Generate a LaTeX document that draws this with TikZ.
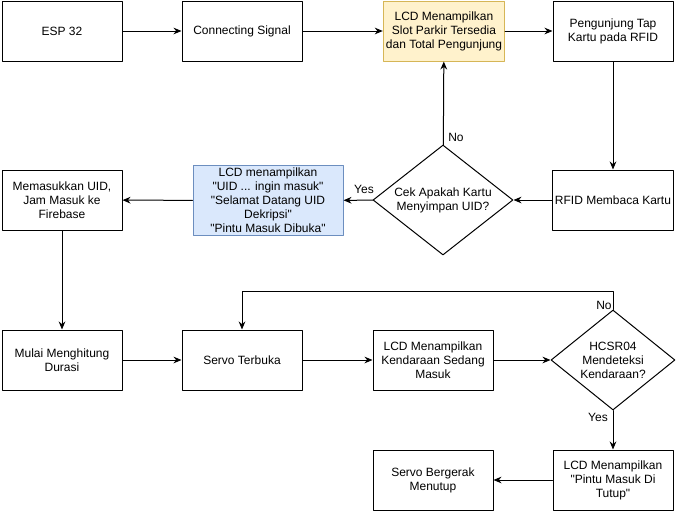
\documentclass[tikz,border=0pt]{standalone}
\usepackage{fontspec}
\setmainfont{Liberation Sans}[Ligatures=TeXOff]
\usetikzlibrary{arrows.meta,shapes.geometric}

\definecolor{slotfill}{HTML}{FFF2CC}
\definecolor{slotline}{HTML}{D6B656}
\definecolor{uidfill}{HTML}{DAE8FC}
\definecolor{uidline}{HTML}{6C8EBF}

\begin{document}
\begin{tikzpicture}[
			x=0.75pt, y=-0.75pt,
			every node/.style={font=\fontsize{9}{10.5}\selectfont},
			box/.style={draw, line width=0.75pt, align=center, inner sep=2pt,
				minimum width=90pt, minimum height=45pt},
			decision/.style={draw, diamond, line width=0.75pt, align=center, inner sep=0pt},
			flow/.style={-{Stealth[length=6pt,width=5pt]}, line width=0.75pt},
			line cap=round,
			line join=round
			]
			\useasboundingbox (0,0) rectangle (676,511);
			
			% top row
			\node[box] (esp) at (62,31) {ESP 32};
			\node[box] (conn) at (242,31) {Connecting Signal};
			\node[box, fill=slotfill, draw=slotline] (slot) at (444,31) {LCD Menampilkan\\Slot Parkir Tersedia\\dan Total Pengunjung};
			\node[box] (tap) at (613,31) {Pengunjung Tap\\Kartu pada RFID};
			
			% second row
			\node[box] (rfid) at (613,200) {RFID Membaca Kartu};
			\node[decision, aspect=1.27, minimum width=105pt, minimum height=82.5pt] (cek) at (443,200) {Cek Apakah Kartu\\Menyimpan UID?};
			\node[box, fill=uidfill, draw=uidline, minimum width=112.5pt, minimum height=52.5pt, inner sep=0pt] (lcduid) at (268,200.5)
				{LCD menampilkan\\"UID ... ingin masuk"\\"Selamat Datang UID\\Dekripsi"\\"Pintu Masuk Dibuka"};
			\node[box] (uid) at (62,200) {Memasukkan UID,\\Jam Masuk ke\\Firebase};
			
			% third row
			\node[box] (mulai) at (62,360) {Mulai Menghitung\\Durasi};
			\node[box] (servo) at (242,360) {Servo Terbuka};
			\node[box] (masuk) at (433,360) {LCD Menampilkan\\Kendaraan Sedang\\Masuk};
			\node[decision, aspect=1.24, minimum width=93pt, minimum height=75pt] (hcsr) at (613,360) {HCSR04\\Mendeteksi\\Kendaraan?};
			
			% bottom row
			\node[box] (pintu) at (613,480) {LCD Menampilkan\\"Pintu Masuk Di\\Tutup"};
			\node[box] (tutup) at (433,480) {Servo Bergerak\\Menutup};
			
			% labels
			\node (cekno) at (456,137) {No};
			\node (cekyes) at (364,189) {Yes};
			\node (hcsrno) at (604,305) {No};
			\node (hcsryes) at (598,417) {Yes};
			\coordinate (back) at (242,291);
			
			% connectors
			\draw[flow] (esp) -- (conn);
			\draw[flow] (conn) -- (slot);
			\draw[flow] (slot) -- (tap);
			\draw[flow] (tap) -- (rfid);
			\draw[flow] (rfid) -- (cek);
			\draw[flow] (cek) -- (slot);
			\draw[flow] (cek) -- (lcduid);
			\draw[flow] (lcduid) -- (uid);
			\draw[flow] (uid) -- (mulai);
			\draw[flow] (mulai) -- (servo);
			\draw[flow] (servo) -- (masuk);
			\draw[flow] (masuk) -- (hcsr);
			\draw[flow] (hcsr.north) |- (back) -- (servo.north);
			\draw[flow] (hcsr) -- (pintu);
			\draw[flow] (pintu) -- (tutup);
		\end{tikzpicture}
\end{document}
